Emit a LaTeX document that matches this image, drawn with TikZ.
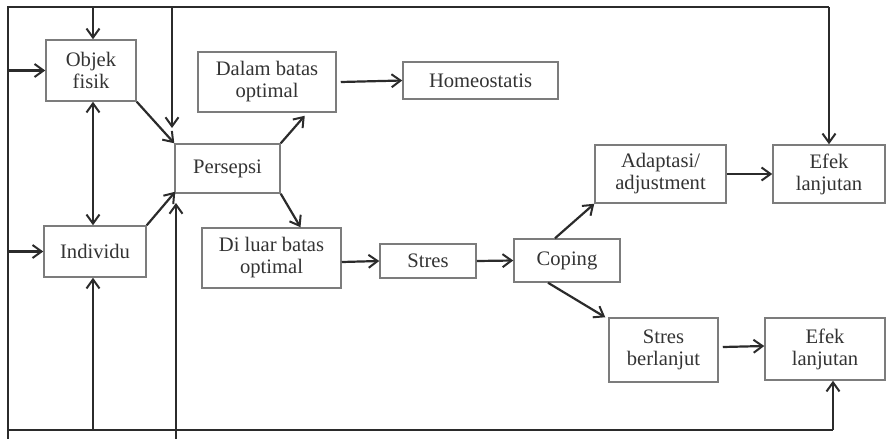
\documentclass[tikz,border=0pt]{standalone}
\usepackage{fontspec}
\setmainfont{Liberation Serif}
\usetikzlibrary{arrows.meta}
\definecolor{linec}{HTML}{2B2B2B}
\definecolor{boxc}{HTML}{7C7C7C}
\definecolor{txtc}{HTML}{333333}
\tikzset{
  box/.style={draw=boxc, line width=0.75pt, inner sep=0pt, align=center,
    text=txtc, font=\fontsize{10.3}{11}\selectfont},
  ln/.style={draw=linec, line width=1.1pt},
  arr/.style={ln, -{Straight Barb[length=4.5pt,width=6.5pt,line width=1pt]}},
  darr/.style={ln, {Straight Barb[length=4.5pt,width=6.5pt,line width=1pt]}-{Straight Barb[length=4.5pt,width=6.5pt,line width=1pt]}},
}
\begin{document}
\begin{tikzpicture}[x=0.5pt,y=-0.5pt]
\useasboundingbox (0,0) rectangle (886,439);

% boxes
\node[box, minimum width=45pt,   minimum height=30.5pt] (obj) at (91,70.5)   {Objek\\fisik};
\node[box, minimum width=52.5pt, minimum height=24.5pt] (per) at (227.5,168.5) {Persepsi};
\node[box, minimum width=69pt,   minimum height=30pt]   (dal) at (267,82)    {Dalam batas\\optimal};
\node[box, minimum width=77.5pt, minimum height=18.5pt] (hom) at (480.5,80.5) {Homeostatis};
\node[box, minimum width=51pt,   minimum height=25.5pt] (ind) at (95,251.5)  {Individu};
\node[box, minimum width=69.5pt, minimum height=30pt]   (dil) at (271.5,258) {Di luar batas\\optimal};
\node[box, minimum width=48pt,   minimum height=17pt]   (str) at (428,261)   {Stres};
\node[box, minimum width=53pt,   minimum height=21.5pt] (cop) at (567,260.5) {Coping};
\node[box, minimum width=65.5pt, minimum height=29pt]   (ada) at (660.5,174) {Adaptasi/\\adjustment};
\node[box, minimum width=56pt,   minimum height=29pt]   (efa) at (829,174)   {Efek\\lanjutan};
\node[box, minimum width=54.5pt, minimum height=32pt]   (sbl) at (663.5,350) {Stres\\berlanjut};
\node[box, minimum width=60pt,   minimum height=31pt]   (efb) at (825,349)   {Efek\\lanjutan};

% frame of feedback lines
\coordinate (tl) at (8,7);
\coordinate (tr) at (829,7);
\coordinate (lb) at (8,439);
\coordinate (bl) at (8,430);
\coordinate (br) at (833,430);
\coordinate (cx) at (93,0);
\coordinate (ptop) at (172,7);
\coordinate (pend) at (172,128);
\coordinate (qbot) at (176,439);
\coordinate (qend) at (176,203);

\draw[ln] (tr) -- (tl) -- (lb);
\draw[ln] (bl) -- (br);
\draw[arr] (tr) -- (tr |- efa.north);
\draw[arr] (br) -- (br |- efb.south);
\draw[arr] (tl |- obj.west) -- (obj.west);
\draw[arr] (tl |- ind.west) -- (ind.west);
\draw[arr] (cx |- tl) -- (cx |- obj.north);
\draw[darr] (cx |- obj.south) -- (cx |- ind.north);
\draw[arr] (cx |- bl) -- (cx |- ind.south);
\draw[arr] (ptop) -- (pend);
\draw[arr] (qbot) -- (qend);

% main flow
\draw[arr] (obj.south east) -- (per.north west);
\draw[arr] (ind.north east) -- ([xshift=0.5pt,yshift=1pt]per.south west);
\draw[arr] (per.north east) -- ([xshift=-16pt,yshift=-1.5pt]dal.south east);
\draw[arr] (per.south east) -- ([xshift=14.5pt]dil.north);
\draw[arr] ([xshift=2pt]dal.east) -- (hom.west);
\draw[arr] ([yshift=-2pt]dil.east) -- (str.west);
\draw[arr] (str.east) -- (cop.west);
\draw[arr] ([xshift=-6pt]cop.north) -- (ada.south west);
\draw[arr] ([xshift=-9.5pt]cop.south) -- ([xshift=-1.5pt]sbl.north west);
\draw[arr] (ada.east) -- (efa.west);
\draw[arr] ([xshift=2pt,yshift=1.5pt]sbl.east) -- ([yshift=1.5pt]efb.west);
\end{tikzpicture}
\end{document}
